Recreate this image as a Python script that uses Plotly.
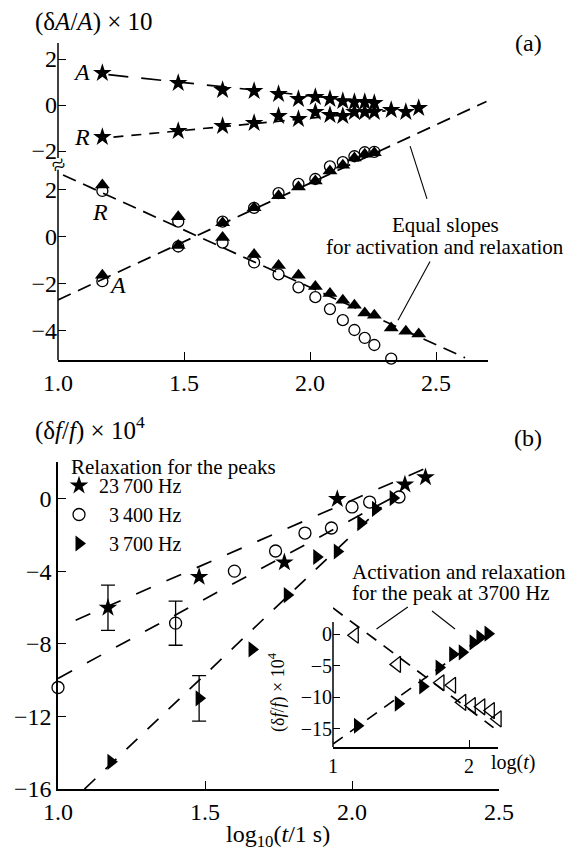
import numpy as np
import plotly.graph_objects as go

SERIF = "Liberation Serif"
W, H = 567, 855

# ---------------- panel (a): (dA/A) x 10 versus log10(t) ----------------
logt_a = [1.176, 1.477, 1.653, 1.778, 1.875, 1.954, 2.021, 2.079,
          2.130, 2.176, 2.217, 2.255, 2.322, 2.380, 2.431]

star_A = [1.39, 0.96, 0.65, 0.61, 0.48, 0.26, 0.35, 0.26, 0.17, 0.13, 0.13, 0.09]
star_R = [-1.39, -1.13, -0.91, -0.78, -0.48, -0.61, -0.30, -0.43,
          -0.48, -0.30, -0.30, -0.30, -0.22, -0.30, -0.13]
tri_R = [2.20, 0.85, -0.04, -0.76, -1.23, -1.65, -2.12, -2.42,
         -2.71, -2.92, -3.26, -3.35, -3.90, -4.03, -4.15]
circ_R = [1.95, 0.64, -0.25, -1.10, -1.61, -2.16, -2.58, -3.09,
          -3.56, -3.98, -4.32, -4.62, -5.20]
tri_A = [-1.65, -0.38, 0.59, 1.23, 1.74, 2.12, 2.37, 2.80, 3.05, 3.35, 3.52, 3.58]
circ_A = [-1.90, -0.42, 0.64, 1.23, 1.86, 2.25, 2.46, 3.00, 3.18, 3.43, 3.60, 3.62]

# straight-line fits: (value at log t = 1, slope, x start, x end)
fit_star_A = (1.55, -1.15, 1.20, 2.27)
fit_star_R = (-1.63, 1.06, 1.22, 2.30)
fit_act_a = (-2.70, 4.98, 1.00, 2.70)
fit_rel_a = (2.73, -4.89, 1.02, 2.615)

# ---------------- panel (b): (df/f) x 10^4 versus log10(t) ----------------
b_star_x = [1.17, 1.48, 1.77, 1.95, 2.18, 2.25]
b_star_y = [-6.0, -4.3, -3.5, 0.0, 0.8, 1.2]
b_star_err = [1.25, 0, 0, 0, 0, 0]

b_circ_x = [1.00, 1.40, 1.60, 1.74, 1.84, 1.93, 2.00, 2.06, 2.16]
b_circ_y = [-10.4, -6.85, -3.98, -2.87, -1.88, -1.60, -0.44, -0.17, 0.11]
b_circ_err = [0, 1.22, 0, 0, 0, 0, 0, 0, 0]

b_tri_x = [1.18, 1.48, 1.66, 1.78, 1.88, 1.95, 2.03, 2.08, 2.14]
b_tri_y = [-14.5, -11.0, -8.3, -5.3, -3.2, -2.9, -1.33, -0.55, 0.05]
b_tri_err = [0, 1.25, 0, 0, 0, 0, 0, 0, 0]

fit_star_b = (-7.11, 7.04, 1.06, 2.29)
fit_circ_b = (-9.90, 8.77, 1.00, 2.15)
fit_tri_b = (-17.39, 15.4, 1.09, 2.10)

# inset: activation for the 3700 Hz peak (relaxation reuses b_tri_*)
act_x = [1.16, 1.47, 1.79, 1.875, 1.95, 2.02, 2.09, 2.16, 2.21]
act_y = [-0.2, -4.8, -7.7, -8.1, -10.8, -11.3, -11.5, -12.1, -13.4]
fit_act_in = (4.10, -16.0, 1.00, 2.18)
fit_rel_in = (-17.39, 15.4, 1.00, 2.10)

legend_title = "Relaxation for the peaks"
legend_names = ["23\u2009700 Hz", "\u20073\u2009400 Hz", "\u20073\u2009700 Hz"]


# ---------------- geometry ----------------
def px_x(p):
    return p / W


def px_y(p):
    return 1 - p / H


A_X = (px_x(58), px_x(488))
A_Y = (px_y(360), px_y(43))
B_X = (px_x(58), px_x(499))
B_Y = (px_y(789), px_y(462))
I_X = (px_x(333), px_x(498))
I_Y = (px_y(747), px_y(605))

A_XR = [1.0, 2.706]
A_UR = [-11.09, 2.70]   # stars block
A_LR = [-5.26, 8.26]    # triangles / circles block
B_XR = [1.0, 2.5]
B_YR = [-16.0, 2.04]
I_XR = [1.0, 2.213]
I_YR = [-17.85, 4.58]


def to_paper(v, rng, dom):
    return dom[0] + (v - rng[0]) / (rng[1] - rng[0]) * (dom[1] - dom[0])


fig = go.Figure()


def fit_line(fit, xa, ya, dash, width=1.7):
    y1, k, x0, x1 = fit
    xs = np.array([x0, x1])
    ys = y1 + k * (xs - 1.0)
    fig.add_trace(go.Scatter(x=xs, y=ys, mode="lines", xaxis=xa, yaxis=ya,
                             line=dict(color="black", width=width, dash=dash),
                             showlegend=False, hoverinfo="skip"))


def points(x, y, xa, ya, symbol, size, name=None, legend=False, lw=1.3):
    fig.add_trace(go.Scatter(x=x, y=y, mode="markers", xaxis=xa, yaxis=ya,
                             name=name, showlegend=legend, cliponaxis=False,
                             marker=dict(symbol=symbol, size=size, color="black",
                                         line=dict(color="black", width=lw))))


def err_bars(x, y, err, xa, ya):
    idx = [i for i, e in enumerate(err) if e > 0]
    fig.add_trace(go.Scatter(x=[x[i] for i in idx], y=[y[i] for i in idx],
                             mode="markers", xaxis=xa, yaxis=ya, showlegend=False,
                             marker=dict(size=1, color="rgba(0,0,0,0)"),
                             error_y=dict(type="data", array=[err[i] for i in idx],
                                          color="black", thickness=1.3, width=7)))


# panel (a)
fit_line(fit_star_A, "x", "y", "20px,13px")
fit_line(fit_star_R, "x", "y", "10px,8px")
fit_line(fit_act_a, "x", "y2", "14px,8px")
fit_line(fit_rel_a, "x", "y2", "14px,8px")
points(logt_a[:len(star_A)], star_A, "x", "y", "star", 14, lw=0)
points(logt_a[:len(star_R)], star_R, "x", "y", "star", 14, lw=0)
points(logt_a[:len(circ_R)], circ_R, "x", "y2", "circle-open", 11)
points(logt_a[:len(circ_A)], circ_A, "x", "y2", "circle-open", 11)
points(logt_a[:len(tri_R)], tri_R, "x", "y2", "triangle-up", 13, lw=0)
points(logt_a[:len(tri_A)], tri_A, "x", "y2", "triangle-up", 13, lw=0)

# panel (b)
fit_line(fit_star_b, "x2", "y3", "16px,17px")
fit_line(fit_circ_b, "x2", "y3", "16px,17px")
fit_line(fit_tri_b, "x2", "y3", "15px,14px")
err_bars(b_star_x, b_star_y, b_star_err, "x2", "y3")
err_bars(b_circ_x, b_circ_y, b_circ_err, "x2", "y3")
err_bars(b_tri_x, b_tri_y, b_tri_err, "x2", "y3")
points(b_star_x, b_star_y, "x2", "y3", "star", 14, legend_names[0], True, lw=0)
points(b_circ_x, b_circ_y, "x2", "y3", "circle-open", 12, legend_names[1], True)
points(b_tri_x, b_tri_y, "x2", "y3", "triangle-right", 14, legend_names[2], True, lw=0)

# inset
fit_line(fit_act_in, "x3", "y4", "12px,9px")
fit_line(fit_rel_in, "x3", "y4", "12px,9px")
points(act_x, act_y, "x3", "y4", "triangle-left-open", 14)
points(b_tri_x, b_tri_y, "x3", "y4", "triangle-right", 14, lw=0)

tick_font = dict(family=SERIF, size=24, color="black")
axis_base = dict(showgrid=False, zeroline=False, ticks="inside", ticklen=8,
                 tickwidth=1.3, tickcolor="black", linecolor="black",
                 linewidth=1.5, tickfont=tick_font, fixedrange=True,
                 automargin=False)

fig.update_layout(
    width=W, height=H,
    margin=dict(l=0, r=0, t=0, b=0, pad=0, autoexpand=False),
    paper_bgcolor="white", plot_bgcolor="rgba(0,0,0,0)",
    font=dict(family=SERIF, color="black"),
    xaxis=dict(axis_base, domain=A_X, range=A_XR, anchor="y", showline=True,
               tickvals=[1.0, 1.5, 2.0, 2.5], ticktext=["1.0", "1.5", "2.0", "2.5"]),
    yaxis=dict(axis_base, domain=A_Y, range=A_UR, anchor="x", showline=False,
               tickvals=[2, 0, -2], ticktext=["2", "0", "\u22122"]),
    yaxis2=dict(axis_base, range=A_LR, anchor="x", overlaying="y", side="left",
                showline=False, tickvals=[2, 0, -2, -4],
                ticktext=["2", "0", "\u22122", "\u22124"]),
    xaxis2=dict(axis_base, domain=B_X, range=B_XR, anchor="y3", showline=True,
                tickvals=[1.0, 1.5, 2.0, 2.5], ticktext=["1.0", "1.5", "2.0", "2.5"]),
    yaxis3=dict(axis_base, domain=B_Y, range=B_YR, anchor="x2", showline=True,
                tickvals=[0, -4, -8, -12, -16],
                ticktext=["0", "\u22124", "\u22128", "\u221212", "\u221216"]),
    xaxis3=dict(axis_base, domain=I_X, range=I_XR, anchor="y4", showline=True,
                ticklen=7, tickfont=dict(family=SERIF, size=20, color="black"),
                tickvals=[1, 2], ticktext=["1", "2"]),
    yaxis4=dict(axis_base, domain=I_Y, range=I_YR, anchor="x3", showline=False,
                ticklen=7, tickfont=dict(family=SERIF, size=20, color="black"),
                tickvals=[0, -5, -10, -15],
                ticktext=["0", "\u22125", "\u221210", "\u221215"]),
    legend=dict(x=px_x(59), y=px_y(466), xanchor="left", yanchor="top",
                bgcolor="rgba(0,0,0,0)", font=dict(family=SERIF, size=20),
                itemwidth=30, tracegroupgap=0),
)

# broken left axis of panel (a) and the inset's left axis
shapes = []
xa0 = A_X[0]
shapes.append(dict(type="line", xref="paper", yref="paper", x0=xa0, x1=xa0,
                   y0=to_paper(-2.3, A_UR, A_Y), y1=A_Y[1],
                   line=dict(color="black", width=1.5)))
shapes.append(dict(type="line", xref="paper", yref="paper", x0=xa0, x1=xa0,
                   y0=A_Y[0], y1=to_paper(2.85, A_LR, A_Y),
                   line=dict(color="black", width=1.5)))
shapes.append(dict(type="line", xref="paper", yref="paper", x0=I_X[0], x1=I_X[0],
                   y0=I_Y[0], y1=to_paper(1.9, I_YR, I_Y),
                   line=dict(color="black", width=1.5)))

# pointer lines for the annotations (data coordinates -> paper)
pointers_a = [((2.397, 3.86), (2.464, 1.61)), ((2.476, -1.06), (2.349, -3.56))]
pointers_in = [((1.55, 4.27), (1.32, 0.79)), ((1.728, 3.63), (1.897, 0.79))]
for (p0, p1) in pointers_a:
    shapes.append(dict(type="line", xref="paper", yref="paper",
                       x0=to_paper(p0[0], A_XR, A_X), y0=to_paper(p0[1], A_LR, A_Y),
                       x1=to_paper(p1[0], A_XR, A_X), y1=to_paper(p1[1], A_LR, A_Y),
                       line=dict(color="black", width=1.1)))
for (p0, p1) in pointers_in:
    shapes.append(dict(type="line", xref="paper", yref="paper",
                       x0=to_paper(p0[0], I_XR, I_X), y0=to_paper(p0[1], I_YR, I_Y),
                       x1=to_paper(p1[0], I_XR, I_X), y1=to_paper(p1[1], I_YR, I_Y),
                       line=dict(color="black", width=1.1)))
fig.update_layout(shapes=shapes)


def note(text, xp, yp, size=21, xanchor="center", angle=0):
    fig.add_annotation(text=text, x=px_x(xp), y=px_y(yp), xref="paper", yref="paper",
                       xanchor=xanchor, yanchor="middle", showarrow=False,
                       textangle=angle, font=dict(family=SERIF, size=size, color="black"))


note("(\u03b4<i>A</i>/<i>A</i>) \u00d7 10", 33, 22, 25, "left")
note("(a)", 528, 43, 24)
note("\u2248", 58, 165, 24, angle=-25)
note("Equal slopes", 445, 225)
note("for activation and relaxation", 445, 247)
note("(\u03b4<i>f</i>/<i>f</i>) \u00d7 10<sup>4</sup>", 33, 428, 25, "left")
note("(b)", 528, 438, 24)
note(legend_title, 69, 467, 21, "left")
note("Activation and relaxation", 350, 572, 21, "left")
note("for the peak at 3700 Hz", 350, 593, 21, "left")
note("log<sub>10</sub>(<i>t</i>/1 s)", 278, 836, 24)
note("log(<i>t</i>)", 513, 762, 20)
note("(\u03b4<i>f</i>/<i>f</i>) \u00d7 10<sup>4</sup>", 277, 692, 18, angle=-90)

# curve labels in panel (a)
for txt, xv, yv, ya in [("A", 1.095, 1.43, "y"), ("R", 1.095, -1.39, "y"),
                        ("R", 1.167, 1.06, "y2"), ("A", 1.238, -2.08, "y2")]:
    fig.add_annotation(text="<i>%s</i>" % txt, x=xv, y=yv, xref="x", yref=ya,
                       showarrow=False, font=dict(family=SERIF, size=24, color="black"))

fig.write_html("out.html")
